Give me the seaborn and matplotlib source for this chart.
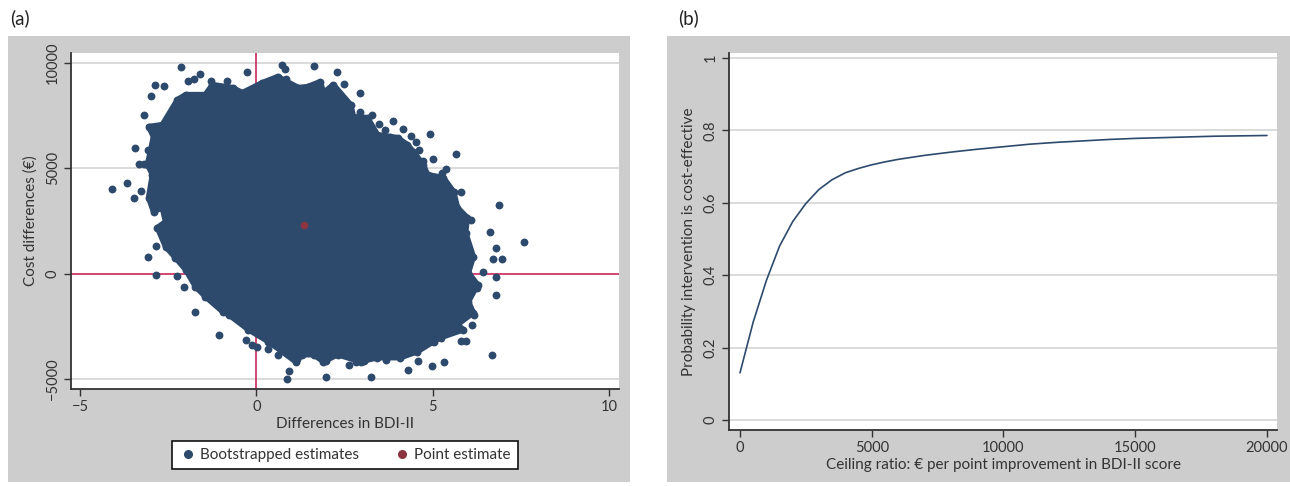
import matplotlib
matplotlib.use("Agg")
import matplotlib.pyplot as plt
import matplotlib.patches as mpatches
from matplotlib.lines import Line2D
import seaborn as sns
import pandas as pd

# ---- data ----
# outline of the solid part of the bootstrap cloud
core_x = [-2.24, -2.01, -1.45, -1.25, -0.68, -0.40, 0.17, 0.60, 1.19, 1.45, 1.81, 1.90, 2.18,
          2.67, 2.75, 3.15, 3.43, 3.80, 4.00, 4.28, 4.45, 4.73, 4.85, 5.30, 5.59, 5.70, 5.98,
          5.93, 6.15, 6.01, 6.27, 6.01, 6.15, 5.70, 5.87, 5.22, 5.02, 4.56, 4.08, 3.43, 2.95,
          2.30, 1.90, 1.62, 1.30, 1.11, 0.34, -0.23, -0.79, -0.96, -1.45, -1.73, -2.01, -2.30,
          -2.58, -2.81, -2.58, -2.67, -2.92, -3.06, -2.95, -3.09, -2.92, -3.06, -2.67]
core_y = [8262, 8499, 8499, 8974, 8831, 8594, 9069, 9354, 8831, 8879, 9116, 8594, 8974,
          8024, 7454, 7407, 6600, 6505, 6457, 6125, 5793, 5175, 4701, 4558, 3893, 3134, 2659,
          1947, 807, 47, -522, -1329, -1852, -2421, -2659, -3039, -3229, -3703, -3988, -3988, -4178,
          -3846, -4178, -3846, -3846, -4178, -3229, -2659, -1947, -1804, -1092, -617, 190, 760,
          1282, 2184, 2469, 3134, 2944, 3609, 4701, 5175, 6505, 6980, 7075]

# single bootstrap replicates around the edge of the cloud
boot_x = [-2.13, -2.88, -2.63, -2.98, -3.18, -3.45, -3.09, -3.34, -3.20, -4.11, -3.68, -3.27, -3.47,
          -0.26, -1.59, -1.78, -1.94, 0.71, 0.80, 0.85, -1.30, -0.85,
          1.63, 2.29, 2.48, 2.93, 2.93, 3.28, 3.47, 3.86, 3.64, 4.15, 4.37, 4.53, 4.62, 4.91, 5.00,
          5.67, 4.72, 5.38, 5.26, 5.22, 5.81, 6.89,
          6.63, 7.58, 6.78, 6.95, 6.71, 6.80, 6.80, 6.26, 6.16, 6.12, 5.81, 5.94, 6.69, 5.31, 4.98,
          4.57, 4.29, 3.26, 1.98, 2.62, 2.81, 3.04, 1.96, 3.66, 6.07,
          -2.84, -3.07, -2.84, -2.25, -2.06, -1.75, -1.05, -0.31, -0.12, 0.02, 0.33, 0.60, 0.92,
          0.87, 1.15,
          -3.06, -2.92, -2.67, -2.24, -2.01, -1.45, -1.25, -0.68, -0.40, 0.17, 0.60, 1.19, -3.09,
          -2.95, -3.06, -2.92, -2.67,
          1.45, 1.81, 1.90, 2.18, 2.67, 2.75, 3.15, 3.43, 3.80, 4.00, 4.28, 4.45, 4.73, 4.85, 5.30,
          5.59, 5.70, 5.98,
          5.93, 6.15, 6.41, 6.01, 6.27, 6.01, 6.15, 5.70, 5.87, 5.22, 5.02, 4.56, 4.08, 3.43, 2.95,
          2.30, 1.90, 1.62,
          1.30, 1.11, 0.34, -0.23, -0.79, -0.96, -1.45, -1.73, -2.01, -2.30, -2.58, -2.81, -2.58]
boot_y = [9795, 8940, 8893, 8451, 7535, 5950, 5888, 5208, 5208, 4036, 4320, 3907, 3593,
          9575, 9496, 9258, 9163, 9923, 9733, 9258, 9163, 9130,
          9843, 9575, 9005, 8580, 7678, 7549, 7108, 7264, 6837, 6852, 6519, 6253, 5888, 6633, 5446,
          5683, 5365, 4971, 4781, 4098, 3879, 3262,
          1980, 1505, 1220, 698, 698, -176, -1030, -679, -1947, -2421, -3214, -3214, -3879, -4211, -4400,
          -4164, -4558, -4922, -4905, -4354, -4211, -4164, -4164, -4083, 2564,
          1329, 807, -62, -95, -650, -1837, -2929, -3134, -3371, -3480, -3575, -3846, -4639,
          -4985, -4036,
          6980, 6505, 7075, 8262, 8499, 8499, 8974, 8831, 8594, 9069, 9354, 8831, 5175,
          4701, 3609, 2944, 3134,
          8879, 9116, 8594, 8974, 8024, 7454, 7407, 6600, 6505, 6457, 6125, 5793, 5175, 4701, 4558,
          3893, 3134, 2659,
          1947, 807, 95, 47, -522, -1329, -1852, -2421, -2659, -3039, -3229, -3703, -3988, -3988, -4178,
          -3846, -4178, -3846,
          -3846, -4178, -3229, -2659, -1947, -1804, -1092, -617, 190, 760, 1282, 2184, 2469]

point_x = [1.36]
point_y = [2330]

# cost-effectiveness acceptability curve
ceiling = [0, 500, 1000, 1500, 2000, 2500, 3000, 3500, 4000, 4500, 5000, 5500, 6000,
           7000, 8000, 9000, 10000, 11000, 12000, 13000, 14000, 15000, 16000, 17000,
           18000, 19000, 20000]
prob = [0.130, 0.270, 0.385, 0.480, 0.548, 0.598, 0.637, 0.664, 0.683, 0.695, 0.705, 0.713,
        0.720, 0.731, 0.740, 0.748, 0.755, 0.762, 0.767, 0.771, 0.775, 0.778, 0.780, 0.782,
        0.784, 0.785, 0.786]

navy = "#2d4a6d"
maroon = "#8c3540"
crimson = "#c8285a"
panel_grey = "#cdcdcd"
grid_grey = "#d4d4d4"

sns.set_style("white")
plt.rcParams["font.family"] = ["Lato", "DejaVu Sans"]
plt.rcParams["axes.unicode_minus"] = True

W, H = 1290, 486
fig = plt.figure(figsize=(W / 100, H / 100), dpi=100)


def frac(x0, y0, x1, y1):
    return [x0 / W, 1 - y1 / H, (x1 - x0) / W, (y1 - y0) / H]


# grey panel backgrounds
for x0, x1 in [(8, 630), (667, 1290)]:
    fig.patches.append(mpatches.Rectangle((x0 / W, 1 - 482 / H), (x1 - x0) / W, (482 - 36) / H,
                                          transform=fig.transFigure, facecolor=panel_grey,
                                          edgecolor="none", zorder=-5))

fig.text(10 / W, 1 - 18 / H, "(a)", fontsize=13.5, va="center", ha="left", color="#222222")
fig.text(678 / W, 1 - 18 / H, "(b)", fontsize=13.5, va="center", ha="left", color="#222222")


def style_axes(ax):
    ax.set_facecolor("white")
    for s in ["top", "right"]:
        ax.spines[s].set_visible(False)
    for s in ["left", "bottom"]:
        ax.spines[s].set_color("#333333")
        ax.spines[s].set_linewidth(1.3)
    ax.tick_params(direction="out", length=5, width=1, color="#333333",
                   labelsize=10.5, labelcolor="#333333", pad=3, left=True, bottom=True)
    ax.tick_params(axis="y", labelrotation=90)
    plt.setp(ax.get_yticklabels(), va="center")
    ax.grid(False)


# ---- (a) cost-effectiveness plane ----
ax1 = fig.add_axes(frac(71, 53, 619, 389))
ax1.set_xlim(-5.26, 10.28)
ax1.set_ylim(-5475, 10475)
for v in [-5000, 5000, 10000]:
    ax1.axhline(v, color=grid_grey, lw=1.2, zorder=0)
ax1.axhline(0, color=crimson, lw=1.2, zorder=1)
ax1.axvline(0, color=crimson, lw=1.2, zorder=1)

ax1.fill(core_x, core_y, color=navy, ec=navy, lw=4, joinstyle="round", zorder=2)
boot = pd.DataFrame({"x": boot_x, "y": boot_y})
sns.scatterplot(data=boot, x="x", y="y", ax=ax1, color=navy, s=32, linewidth=0, zorder=3)
sns.scatterplot(x=point_x, y=point_y, ax=ax1, color=maroon, s=30, linewidth=0, zorder=4)

ax1.set_xticks([-5, 0, 5, 10])
ax1.set_yticks([-5000, 0, 5000, 10000])
ax1.set_xlabel("Differences in BDI-II", fontsize=11, color="#333333", labelpad=2)
ax1.set_ylabel("Cost differences (€)", fontsize=11, color="#333333", labelpad=6)
style_axes(ax1)

handles = [Line2D([], [], ls="none", marker="o", ms=5.5, color=navy),
           Line2D([], [], ls="none", marker="o", ms=5.5, color=maroon)]
leg = ax1.legend(handles, ["Bootstrapped estimates", "Point estimate"], ncol=2,
                 loc="center", bbox_to_anchor=(0.5, -0.196), frameon=True, fancybox=False,
                 fontsize=11, handletextpad=0.2, columnspacing=2.2, borderpad=0.45,
                 handlelength=1.2, labelcolor="#333333", framealpha=1, facecolor="white")
leg.get_frame().set_edgecolor("#111111")
leg.get_frame().set_linewidth(1.2)

# ---- (b) acceptability curve ----
ax2 = fig.add_axes(frac(729, 53, 1277, 430))
ax2.set_xlim(-417, 20380)
ax2.set_ylim(-0.028, 1.014)
for v in [0, 0.2, 0.4, 0.6, 0.8, 1.0]:
    ax2.axhline(v, color=grid_grey, lw=1.2, zorder=0)
ceac = pd.DataFrame({"ceiling": ceiling, "prob": prob})
sns.lineplot(data=ceac, x="ceiling", y="prob", ax=ax2, color=navy, lw=1.2, zorder=3)
ax2.set_xticks([0, 5000, 10000, 15000, 20000])
ax2.set_yticks([0, 0.2, 0.4, 0.6, 0.8, 1])
ax2.set_yticklabels(["0", "0.2", "0.4", "0.6", "0.8", "1"])
ax2.set_xlabel("Ceiling ratio: € per point improvement in BDI-II score", fontsize=11,
               color="#333333", labelpad=2)
ax2.set_ylabel("Probability intervention is cost-effective", fontsize=11, color="#333333",
               labelpad=6)
style_axes(ax2)

fig.savefig("out.png", dpi=100)
